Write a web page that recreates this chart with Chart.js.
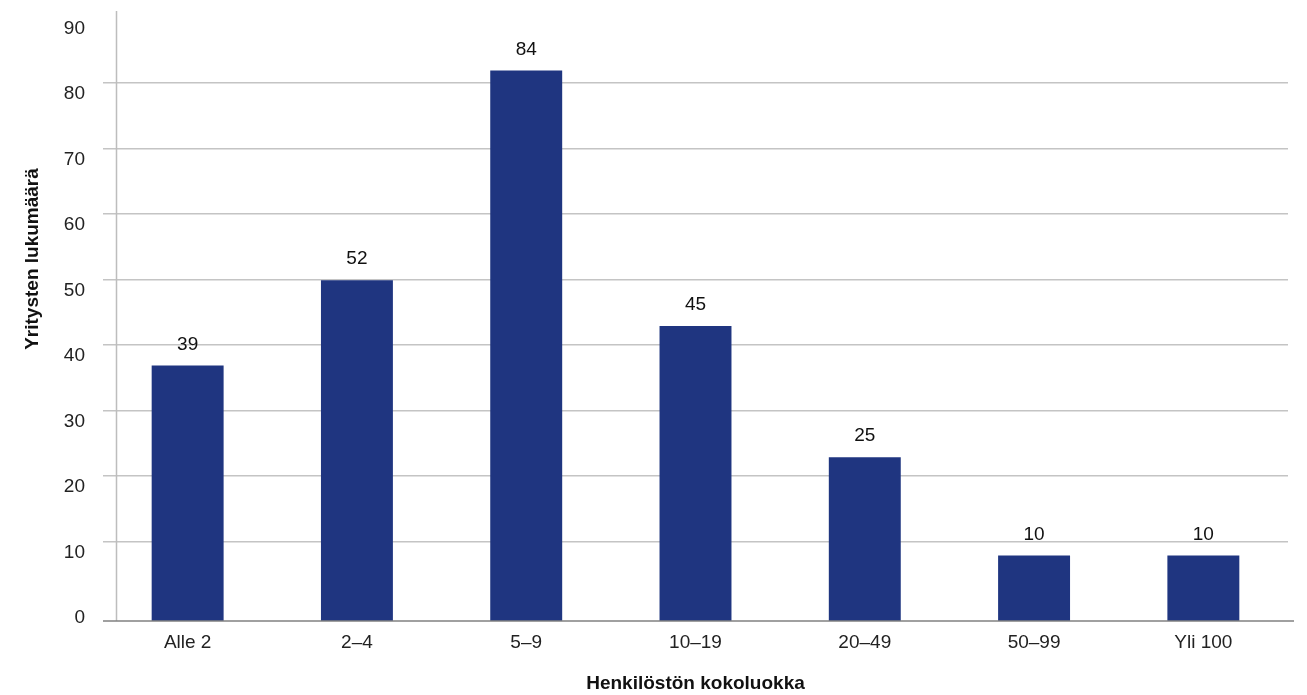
<!DOCTYPE html>
<html>
<head>
<meta charset="utf-8">
<script src="https://cdn.jsdelivr.net/npm/chart.js@4/dist/chart.umd.min.js"></script>
<style>
html,body{margin:0;padding:0;background:#fff;}
#wrap{width:1307px;height:695px;position:relative;}
</style>
</head>
<body>
<div id="wrap"><canvas id="c"></canvas></div>
<script>
const categories = ["Alle 2", "2\u20134", "5\u20139", "10\u201319", "20\u201349", "50\u201399", "Yli 100"];
const counts = [39, 52, 84, 45, 25, 10, 10];
const yTickValues = [0, 10, 20, 30, 40, 50, 60, 70, 80, 90];
const xTitle = "Henkilöstön kokoluokka";
const yTitle = "Yritysten lukumäärä";

const FONT = "'Liberation Sans', Arial, sans-serif";
const BAR = "#1f3580";
const GRID = "#c4c4c4";

const extras = {
  id: "extras",
  afterDatasetsDraw(chart) {
    const ctx = chart.ctx;
    const meta = chart.getDatasetMeta(0);
    ctx.save();
    ctx.fillStyle = "#111";
    ctx.font = "19px " + FONT;
    ctx.textAlign = "center";
    ctx.textBaseline = "middle";
    meta.data.forEach((bar, i) => {
      ctx.fillText(String(counts[i]), bar.x, bar.y - 21);
    });
    ctx.restore();
  },
  afterDraw(chart) {
    const ctx = chart.ctx;
    const a = chart.chartArea;
    ctx.save();
    ctx.strokeStyle = "#bdbdbd";
    ctx.lineWidth = 1.5;
    ctx.beginPath();
    ctx.moveTo(a.left + 13.5, a.top);
    ctx.lineTo(a.left + 13.5, a.bottom);
    ctx.stroke();
    ctx.strokeStyle = "#808080";
    ctx.lineWidth = 1.5;
    ctx.beginPath();
    ctx.moveTo(a.left, a.bottom);
    ctx.lineTo(a.right + 6, a.bottom);
    ctx.stroke();
    ctx.fillStyle = "#111";
    ctx.font = "bold 19px " + FONT;
    ctx.textAlign = "center";
    ctx.textBaseline = "middle";
    ctx.translate(33, 259);
    ctx.rotate(-Math.PI / 2);
    ctx.fillText(yTitle, 0, 0);
    ctx.restore();
  }
};

new Chart(document.getElementById("c"), {
  type: "bar",
  data: {
    labels: categories,
    datasets: [{
      data: counts,
      backgroundColor: BAR,
      borderWidth: 0,
      categoryPercentage: 1,
      barPercentage: 0.425,
      yAxisID: "y"
    }]
  },
  options: {
    responsive: true,
    maintainAspectRatio: false,
    animation: false,
    layout: { padding: { top: 11, right: 19, left: 0, bottom: 0 } },
    plugins: { legend: { display: false }, tooltip: { enabled: false } },
    scales: {
      x: {
        offset: true,
        grid: { display: false },
        border: { display: false },
        ticks: { color: "#222", font: { family: FONT, size: 19 }, padding: 2, maxRotation: 0 },
        title: { display: true, text: xTitle, color: "#111", font: { family: FONT, size: 19, weight: "bold" }, padding: { top: 0, bottom: 0 } },
        afterFit(s) { s.height = 74; s.paddingLeft = 0; s.paddingRight = 0; }
      },
      yg: {
        type: "linear",
        position: "left",
        min: -2.1,
        max: 91.0,
        afterBuildTicks(s) { s.ticks = yTickValues.map(v => ({ value: v })); },
        grid: {
          drawTicks: false,
          lineWidth: 1.5,
          color: (c) => (c.tick && c.tick.value > 0 && c.tick.value < 90) ? GRID : "rgba(0,0,0,0)"
        },
        border: { display: false },
        ticks: { color: "#222", font: { family: FONT, size: 19 }, padding: 18, labelOffset: 11 },
        afterFit(s) { s.width = 103; s.paddingTop = 0; s.paddingBottom = 0; }
      },
      y: {
        type: "linear",
        display: false,
        min: 0,
        max: 93.09
      }
    }
  },
  plugins: [extras]
});
</script>
</body>
</html>
